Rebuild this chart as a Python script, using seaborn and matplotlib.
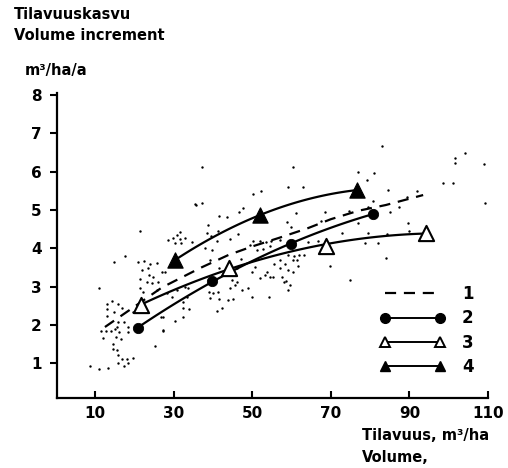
import matplotlib
matplotlib.use('Agg')
import matplotlib.pyplot as plt
from matplotlib.lines import Line2D
import seaborn as sns

# havainnot (pisteet)
dot_x = [17.7, 14.8, 20.9, 22.5, 24.0, 25.8, 21.9, 23.5, 27.0, 23.7, 24.8, 21.4, 23.2, 24.5, 26.0,
         11.0, 21.4, 22.2, 25.8, 14.3, 15.9, 13.1, 13.1, 16.9, 14.8, 19.7, 20.9, 13.1, 15.9, 17.4,
         15.6, 18.4, 11.5, 12.8, 14.1, 15.1, 16.1, 18.4, 12.0, 15.3, 16.6, 14.6, 25.3, 14.6, 15.6,
         15.9, 16.9, 18.1, 19.7, 15.9, 17.4, 18.4, 8.7, 11.0, 13.3, 26.8, 27.3, 21.4,
         35.7, 37.2, 41.6, 43.6, 46.6, 47.7, 38.7, 38.5, 39.5, 41.3, 46.4, 31.6, 30.9, 29.9, 28.6,
         31.6, 32.9, 30.4, 31.9, 34.7, 38.0, 39.8, 41.0, 44.4, 27.8, 39.3, 47.2, 41.6, 46.1, 44.9,
         46.1, 45.6, 32.9, 33.7, 30.9, 28.3, 29.6, 33.4, 32.4, 39.1, 40.0, 41.3, 44.4, 47.4, 39.3,
         41.6, 43.8, 45.1, 32.4, 33.9, 32.4, 27.3, 42.3, 41.0, 30.4, 27.3, 37.2, 35.4,
         59.1, 62.9, 50.2, 52.2, 61.1, 68.5, 58.9, 59.9, 67.5, 57.1, 50.2, 52.0, 53.5, 54.8, 49.4,
         51.2, 52.7, 54.5, 64.2, 66.7, 59.1, 60.6, 61.9, 63.2, 60.4, 61.4, 57.1, 58.3, 55.5, 61.7,
         50.7, 53.8, 57.1, 59.1, 60.4, 49.9, 54.5, 53.3, 55.3, 52.0, 57.6, 58.6, 59.6, 59.1, 48.9,
         49.9, 54.3, 69.8, 60.4, 58.1,
         83.0, 101.6, 101.6, 104.2, 109.0, 76.9, 81.0, 79.2, 98.6, 101.1, 84.6, 91.9, 80.7, 89.4,
         87.4, 85.1, 79.5, 74.6, 109.2, 89.6, 89.9, 76.9, 72.8, 79.5, 84.3, 78.7, 82.0, 84.0, 74.9]
dot_y = [3.80, 3.65, 3.65, 3.67, 3.59, 3.62, 3.44, 3.49, 3.39, 3.31, 3.26, 3.20, 3.13, 3.10, 3.13,
         2.97, 2.97, 2.86, 2.92, 2.63, 2.55, 2.55, 2.42, 2.45, 2.34, 2.34, 2.34, 2.24, 2.08, 2.08,
         1.95, 1.95, 1.85, 1.85, 1.85, 1.90, 1.82, 1.82, 1.67, 1.69, 1.64, 1.51, 1.46, 1.38, 1.35,
         1.22, 1.12, 1.12, 1.15, 1.02, 0.94, 1.02, 0.94, 0.86, 0.89, 2.21, 1.85, 4.45,
         5.13, 5.18, 4.84, 4.82, 4.95, 5.05, 4.61, 4.40, 4.32, 4.45, 4.38, 4.43, 4.35, 4.27, 4.22,
         4.24, 4.27, 4.14, 4.14, 4.17, 4.01, 3.96, 4.19, 4.24, 3.39, 3.70, 3.72, 3.49, 3.49, 3.18,
         3.13, 3.05, 2.99, 2.97, 2.92, 2.84, 2.73, 2.73, 2.60, 2.86, 2.84, 2.86, 2.97, 2.92, 2.71,
         2.68, 2.66, 2.68, 2.45, 2.42, 2.21, 2.21, 2.45, 2.37, 2.11, 1.88, 6.12, 5.16,
         5.60, 5.60, 5.42, 5.49, 4.92, 4.95, 4.69, 4.56, 4.71, 4.22, 4.19, 4.19, 4.17, 4.19, 4.09,
         3.96, 3.98, 4.06, 4.17, 4.19, 3.83, 3.80, 3.83, 3.83, 3.70, 3.70, 3.70, 3.59, 3.59, 3.54,
         3.52, 3.39, 3.49, 3.44, 3.39, 3.39, 3.26, 3.31, 3.26, 3.23, 3.26, 3.15, 3.05, 2.92, 2.97,
         2.73, 2.73, 3.54, 6.12, 3.13,
         6.67, 6.35, 6.22, 6.48, 6.20, 5.99, 5.96, 5.78, 5.70, 5.70, 5.52, 5.49, 5.23, 5.34,
         5.08, 4.95, 5.08, 4.97, 5.18, 4.66, 4.45, 4.66, 4.40, 4.40, 4.38, 4.14, 4.14, 3.75, 3.18]

# käyrä 1 (katkoviiva)
c1_x = [12.5, 20.0, 27.0, 32.0, 37.0, 44.0, 50.0, 57.0, 64.0, 70.0, 77.0, 84.0, 93.5]
c1_y = [1.95, 2.48, 2.98, 3.24, 3.50, 3.83, 4.05, 4.28, 4.52, 4.76, 4.98, 5.13, 5.39]

# käyrät 2-4 (merkit)
c2_x = [20.9, 39.8, 59.9, 80.7]
c2_y = [1.93, 3.15, 4.11, 4.90]
c3_x = [21.7, 44.1, 68.8, 94.2]
c3_y = [2.52, 3.50, 4.07, 4.40]
c4_x = [30.4, 52.0, 76.7]
c4_y = [3.70, 4.87, 5.52]

legend_labels = ['1', '2', '3', '4']
x_ticks = [10, 30, 50, 70, 90, 110]
y_ticks = [1, 2, 3, 4, 5, 6, 7, 8]

sns.set_style('ticks')
plt.rcParams['font.family'] = ['DejaVu Sans']
plt.rcParams['font.weight'] = 'bold'
for k in ['axes.edgecolor', 'text.color', 'xtick.color', 'ytick.color', 'axes.labelcolor']:
    plt.rcParams[k] = 'black'

fig = plt.figure(figsize=(5.08, 4.68), dpi=100)
ax = fig.add_axes([0.1122, 0.1496, 0.8484, 0.6517])

sns.scatterplot(x=dot_x, y=dot_y, s=3, color='black', linewidth=0, ax=ax)

dash = (0, (5, 3.5))
sns.lineplot(x=c1_x, y=c1_y, sort=False, color='black', lw=1.6, linestyle=dash, ax=ax)

line_kws = dict(color='black', lw=1.6)
for xs, ys in [(c2_x, c2_y), (c3_x, c3_y), (c4_x, c4_y)]:
    sns.regplot(x=xs, y=ys, order=2, scatter=False, ci=None, truncate=True,
                line_kws=line_kws, ax=ax)

sns.scatterplot(x=c2_x, y=c2_y, marker='o', s=55, color='black', edgecolor='black', zorder=5, ax=ax)
sns.scatterplot(x=c3_x, y=c3_y, marker='^', s=120, facecolor='white', edgecolor='black',
                linewidth=1.5, zorder=5, ax=ax)
sns.scatterplot(x=c4_x, y=c4_y, marker='^', s=120, color='black', edgecolor='black', zorder=5, ax=ax)

ax.set_xlim(0.3, 110)
ax.set_ylim(0.1, 8.05)
ax.set_xticks(x_ticks)
ax.set_yticks(y_ticks)
ax.tick_params(axis='x', direction='in', length=5, width=1.5, pad=6, labelsize=11, colors='black')
ax.tick_params(axis='y', direction='out', length=5, width=1.5, pad=6, labelsize=11, colors='black')
for t in ax.get_xticklabels() + ax.get_yticklabels():
    t.set_fontweight('bold')
sns.despine(ax=ax)
for s in ['left', 'bottom']:
    ax.spines[s].set_linewidth(1.6)
    ax.spines[s].set_color('black')
ax.set_xlabel('')
ax.set_ylabel('')

handles = [
    Line2D([0], [0], color='black', lw=1.6, linestyle=dash),
    Line2D([0], [0], color='black', lw=1.4, marker='o', markersize=7),
    Line2D([0], [0], color='black', lw=1.4, marker='^', markersize=6.5,
           markerfacecolor='white', markeredgewidth=1.4),
    Line2D([0], [0], color='black', lw=1.4, marker='^', markersize=7.5),
]
ax.legend(handles, legend_labels, numpoints=2, handlelength=3.9, handletextpad=1.0,
          labelspacing=0.38, frameon=False, loc='upper left', borderpad=0,
          borderaxespad=0, bbox_to_anchor=(0.75, 0.37),
          prop={'weight': 'bold', 'size': 12})

fig.text(0.028, 0.985, 'Tilavuuskasvu', fontsize=10.5, fontweight='bold', va='top')
fig.text(0.028, 0.940, 'Volume increment', fontsize=10.5, fontweight='bold', va='top')
fig.text(0.049, 0.866, 'm³/ha/a', fontsize=10.5, fontweight='bold', va='top')
fig.text(0.712, 0.085, 'Tilavuus, m³/ha', fontsize=10.5, fontweight='bold', va='top')
fig.text(0.712, 0.038, 'Volume,', fontsize=10.5, fontweight='bold', va='top')

fig.savefig('out.png', dpi=100)
